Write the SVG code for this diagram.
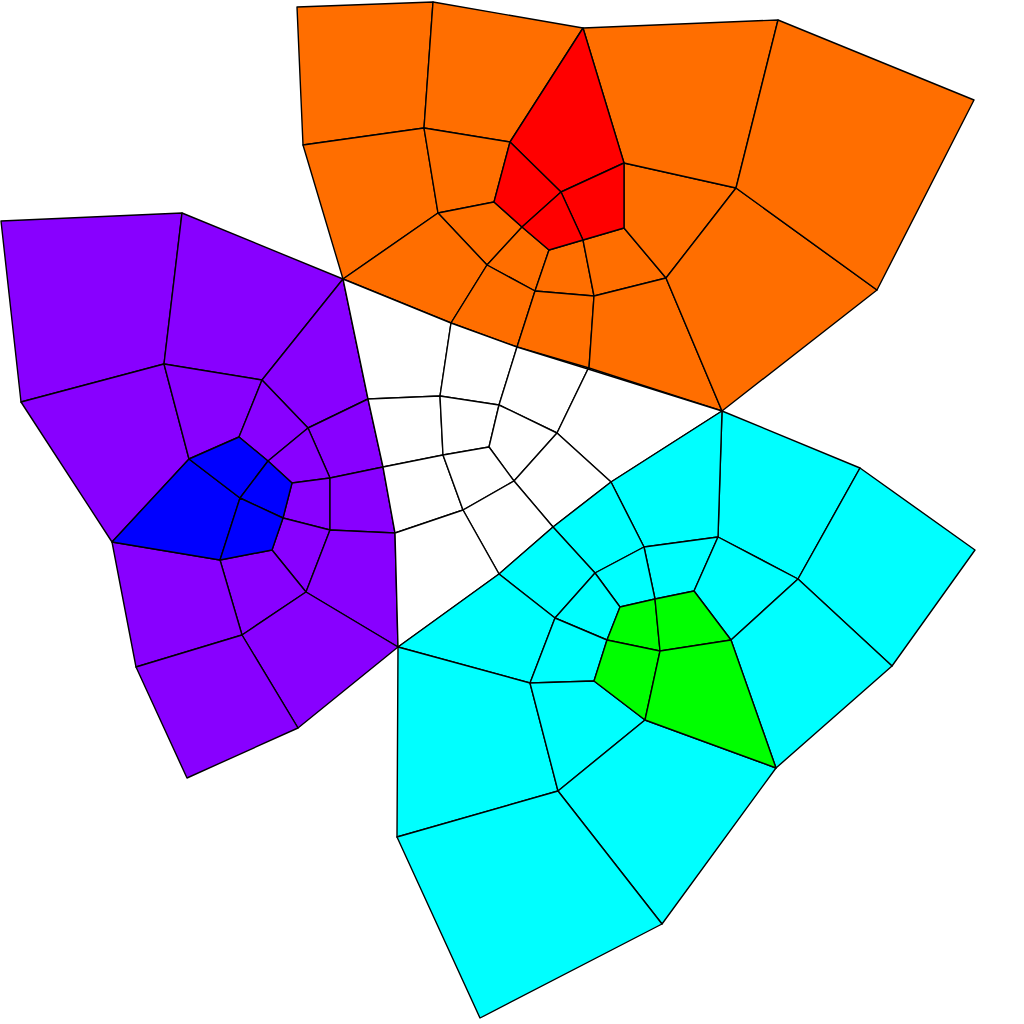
<svg xmlns="http://www.w3.org/2000/svg" width="1024" height="1024" viewBox="0 0 1024 1024">
<style>
polygon{stroke:#000;stroke-width:1.4;stroke-linejoin:round}
.o{fill:#ff6e00}.r{fill:#ff0000}.p{fill:#8800ff}.b{fill:#0000ff}.w{fill:#ffffff}.c{fill:#00ffff}.g{fill:#00ff00}
</style>
<rect width="1024" height="1024" fill="#fff"/>
<g id="orange">
<polygon class="o" points="297,7 433,2 424,128 303,145"/>
<polygon class="o" points="433,2 583,28 510,142 424,128"/>
<polygon class="o" points="303,145 424,128 438,213 343,279"/>
<polygon class="o" points="424,128 510,142 494,202 438,213"/>
<polygon class="o" points="438,213 494,202 522,227 487,265"/>
<polygon class="o" points="343,279 438,213 487,265 451,323"/>
<polygon class="o" points="487,265 522,227 549,250 535,291"/>
<polygon class="o" points="451,323 487,265 535,291 517,347"/>
<polygon class="o" points="535,291 549,250 583,240 594,296"/>
<polygon class="o" points="517,347 535,291 594,296 589,368"/>
<polygon class="o" points="594,296 583,240 624,228 666,278"/>
<polygon class="o" points="589,368 594,296 666,278 722,411"/>
<polygon class="o" points="624,228 624,163 736,188 666,278"/>
<polygon class="o" points="666,278 736,188 877,290 722,411"/>
<polygon class="o" points="624,163 583,28 778,20 736,188"/>
<polygon class="o" points="736,188 778,20 974,100 877,290"/>
</g>
<g id="red">
<polygon class="r" points="583,28 624,163 561,192 510,142"/>
<polygon class="r" points="510,142 561,192 522,227 494,202"/>
<polygon class="r" points="561,192 624,163 624,228 583,240"/>
<polygon class="r" points="561,192 583,240 549,250 522,227"/>
</g>
<g id="purple">
<polygon class="p" points="1,221 182,213 164,364 21,402"/>
<polygon class="p" points="182,213 343,279 262,380 164,364"/>
<polygon class="p" points="21,402 164,364 189,459 112,542"/>
<polygon class="p" points="164,364 262,380 239,437 189,459"/>
<polygon class="p" points="262,380 343,279 368,399 308,428"/>
<polygon class="p" points="262,380 308,428 268,461 239,437"/>
<polygon class="p" points="308,428 368,399 383,467 330,478"/>
<polygon class="p" points="268,461 308,428 330,478 292,483"/>
<polygon class="p" points="292,483 330,478 330,530 283,518"/>
<polygon class="p" points="330,478 383,467 395,533 330,530"/>
<polygon class="p" points="283,518 330,530 306,592 272,550"/>
<polygon class="p" points="330,530 395,533 398,647 306,592"/>
<polygon class="p" points="220,560 272,550 306,592 242,635"/>
<polygon class="p" points="112,542 220,560 242,635 136,667"/>
<polygon class="p" points="242,635 306,592 398,647 298,728"/>
<polygon class="p" points="136,667 242,635 298,728 187,778"/>
</g>
<g id="blue">
<polygon class="b" points="189,459 240,498 220,560 112,542"/>
<polygon class="b" points="189,459 239,437 268,461 240,498"/>
<polygon class="b" points="268,461 292,483 283,518 240,498"/>
<polygon class="b" points="240,498 283,518 272,550 220,560"/>
</g>
<g id="white">
<polygon class="w" points="343,279 451,323 440,396 368,399"/>
<polygon class="w" points="451,323 517,347 499,405 440,396"/>
<polygon class="w" points="517,347 588,369 557,433 499,405"/>
<polygon class="w" points="588,369 722,411 611,482 557,433"/>
<polygon class="w" points="368,399 440,396 443,455 383,467"/>
<polygon class="w" points="440,396 499,405 489,447 443,455"/>
<polygon class="w" points="499,405 557,433 514,481 489,447"/>
<polygon class="w" points="557,433 611,482 553,527 514,481"/>
<polygon class="w" points="383,467 443,455 463,510 395,533"/>
<polygon class="w" points="443,455 489,447 514,481 463,510"/>
<polygon class="w" points="463,510 514,481 553,527 499,574"/>
<polygon class="w" points="395,533 463,510 499,574 398,647"/>
</g>
<g id="cyan">
<polygon class="c" points="722,411 860,468 798,579 718,537"/>
<polygon class="c" points="860,468 975,550 892,666 798,579"/>
<polygon class="c" points="611,482 722,411 718,537 644,547"/>
<polygon class="c" points="553,527 611,482 644,547 595,573"/>
<polygon class="c" points="499,574 553,527 595,573 555,618"/>
<polygon class="c" points="644,547 718,537 694,591 655,599"/>
<polygon class="c" points="595,573 644,547 655,599 620,607"/>
<polygon class="c" points="555,618 595,573 620,607 607,640"/>
<polygon class="c" points="718,537 798,579 731,640 694,591"/>
<polygon class="c" points="798,579 892,666 776,768 731,640"/>
<polygon class="c" points="398,647 499,574 555,618 530,683"/>
<polygon class="c" points="530,683 555,618 607,640 594,681"/>
<polygon class="c" points="398,647 530,683 558,791 397,837"/>
<polygon class="c" points="530,683 594,681 645,720 558,791"/>
<polygon class="c" points="558,791 645,720 776,768 662,924"/>
<polygon class="c" points="397,837 558,791 662,924 480,1018"/>
</g>
<g id="green">
<polygon class="g" points="620,607 655,599 660,651 607,640"/>
<polygon class="g" points="655,599 694,591 731,640 660,651"/>
<polygon class="g" points="607,640 660,651 645,720 594,681"/>
<polygon class="g" points="660,651 731,640 776,768 645,720"/>
</g>
</svg>
